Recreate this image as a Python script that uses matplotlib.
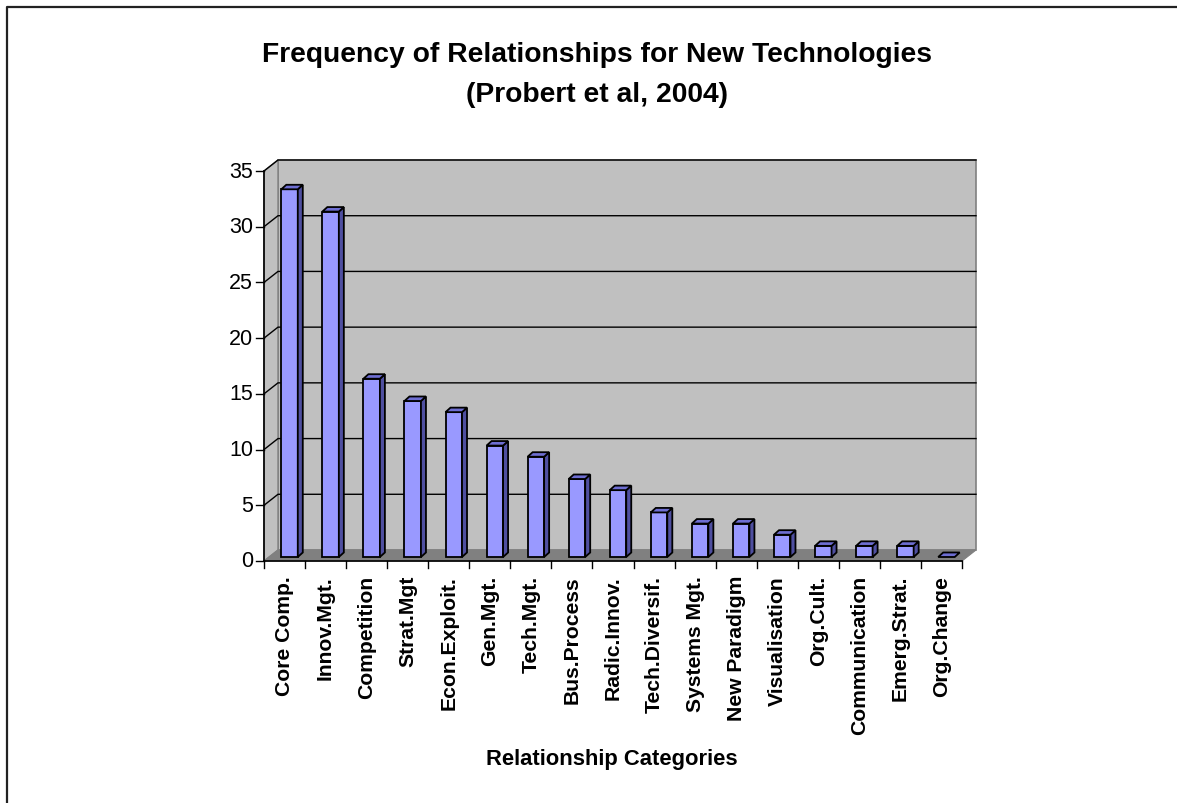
import matplotlib
matplotlib.use("Agg")
import matplotlib.pyplot as plt
from matplotlib.patches import Polygon
from matplotlib.lines import Line2D

categories = ["Core Comp.", "Innov.Mgt.", "Competition", "Strat.Mgt", "Econ.Exploit.",
              "Gen.Mgt.", "Tech.Mgt.", "Bus.Process", "Radic.Innov.", "Tech.Diversif.",
              "Systems Mgt.", "New Paradigm", "Visualisation", "Org.Cult.",
              "Communication", "Emerg.Strat.", "Org.Change"]
values = [33, 31, 16, 14, 13, 10, 9, 7, 6, 4, 3, 3, 2, 1, 1, 1, 0]
yticks = [0, 5, 10, 15, 20, 25, 30, 35]

title_line1 = "Frequency of Relationships for New Technologies"
title_line2 = "(Probert et al, 2004)"
xlabel = "Relationship Categories"

W, H = 1177, 804
fig = plt.figure(figsize=(W / 100, H / 100), dpi=100)
fig.patch.set_facecolor("white")
plt.rcParams['font.family'] = ['Liberation Sans', 'DejaVu Sans']

# front plot area in pixels
x0p, x1p, y0p, y1p = 264, 962, 562, 172
ax = fig.add_axes([x0p / W, 1 - y0p / H, (x1p - x0p) / W, (y0p - y1p) / H])
n = len(categories)
ymax = 35
ax.set_xlim(0, n)
ax.set_ylim(0, ymax)
ax.axis("off")

sx = (x1p - x0p) / n          # px per category
sy = (y0p - y1p) / ymax       # px per unit
DX, DY = 14 / sx, 11 / sy     # wall depth in data units

# back wall, side wall, floor
wall = "#C0C0C0"
ax.add_patch(Polygon([(DX, DY), (n + DX, DY), (n + DX, ymax + DY), (DX, ymax + DY)],
                     closed=True, facecolor=wall, edgecolor="#808080", lw=1.2,
                     clip_on=False, zorder=1))
ax.add_patch(Polygon([(0, 0), (DX, DY), (DX, ymax + DY), (0, ymax)],
                     closed=True, facecolor=wall, edgecolor="#808080", lw=1.0,
                     clip_on=False, zorder=1))
ax.add_patch(Polygon([(0, 0), (n, 0), (n + DX, DY), (DX, DY)],
                     closed=True, facecolor="#808080", edgecolor="#808080", lw=0.8,
                     clip_on=False, zorder=2))

# gridlines on side and back wall
for v in yticks[1:]:
    ax.add_line(Line2D([0, DX, n + DX], [v, v + DY, v + DY], color="black",
                       lw=1.0, clip_on=False, zorder=2))

# front axis lines
ax.add_line(Line2D([0, 0], [0, ymax], color="black", lw=1.2, clip_on=False, zorder=5))
ax.add_line(Line2D([0, n], [0, 0], color="black", lw=1.2, clip_on=False, zorder=5))
# y ticks
tick_len_x = 8 / sx
for v in yticks:
    ax.add_line(Line2D([-tick_len_x, 0], [v, v], color="black", lw=1.0,
                       clip_on=False, zorder=5))
    ax.text(-11 / sx, v, str(v), ha="right", va="center", fontsize=15.5, zorder=5)
# x ticks
tick_len_y = 7 / sy
for i in range(n + 1):
    ax.add_line(Line2D([i, i], [0, -tick_len_y], color="black", lw=1.0,
                       clip_on=False, zorder=5))
for i, c in enumerate(categories):
    ax.text(i + 0.5, -14 / sy, c, rotation=90, ha="center", va="top",
            fontsize=15.2, fontweight="bold", rotation_mode="default", zorder=5)

# bars
front_col, top_col, side_col = "#9999FF", "#6E6ED2", "#4F4FA0"
bw = 16.5 / sx
fdx, fdy = 5 / sx, 4 / sy          # front face offset into depth
bdx, bdy = 10 / sx, 8.5 / sy       # back face offset
for i, v in enumerate(values):
    xl = i + 0.5 - bw / 2 + fdx
    xr = xl + bw
    yb = fdy
    yt = v + fdy
    ddx, ddy = bdx - fdx, bdy - fdy
    if v > 0:
        ax.add_patch(Polygon([(xl, yb), (xr, yb), (xr, yt), (xl, yt)], closed=True,
                             facecolor=front_col, edgecolor="black", lw=1.3,
                             joinstyle="miter", clip_on=False, zorder=6))
        ax.add_patch(Polygon([(xr, yb), (xr + ddx, yb + ddy), (xr + ddx, yt + ddy), (xr, yt)],
                             closed=True, facecolor=side_col, edgecolor="black", lw=1.3,
                             joinstyle="miter", clip_on=False, zorder=6))
    ax.add_patch(Polygon([(xl, yt), (xr, yt), (xr + ddx, yt + ddy), (xl + ddx, yt + ddy)],
                         closed=True, facecolor=top_col, edgecolor="black", lw=1.3,
                         joinstyle="miter", clip_on=False, zorder=6))

# titles
fig.text(597 / W, 1 - 55 / H, title_line1, ha="center", va="center", fontsize=20.3,
         fontweight="bold")
fig.text(597 / W, 1 - 95 / H, title_line2, ha="center", va="center", fontsize=20.3,
         fontweight="bold")
fig.text(612 / W, 1 - 760 / H, xlabel, ha="center", va="center", fontsize=15.8,
         fontweight="bold")

# outer frame (left and top edges visible)
fig.add_artist(Line2D([6.5 / W, 6.5 / W, 1.0], [0, 1 - 8 / H, 1 - 8 / H],
                      transform=fig.transFigure, color="#222222", lw=1.6))

fig.savefig("out.png", dpi=100, facecolor="white")
